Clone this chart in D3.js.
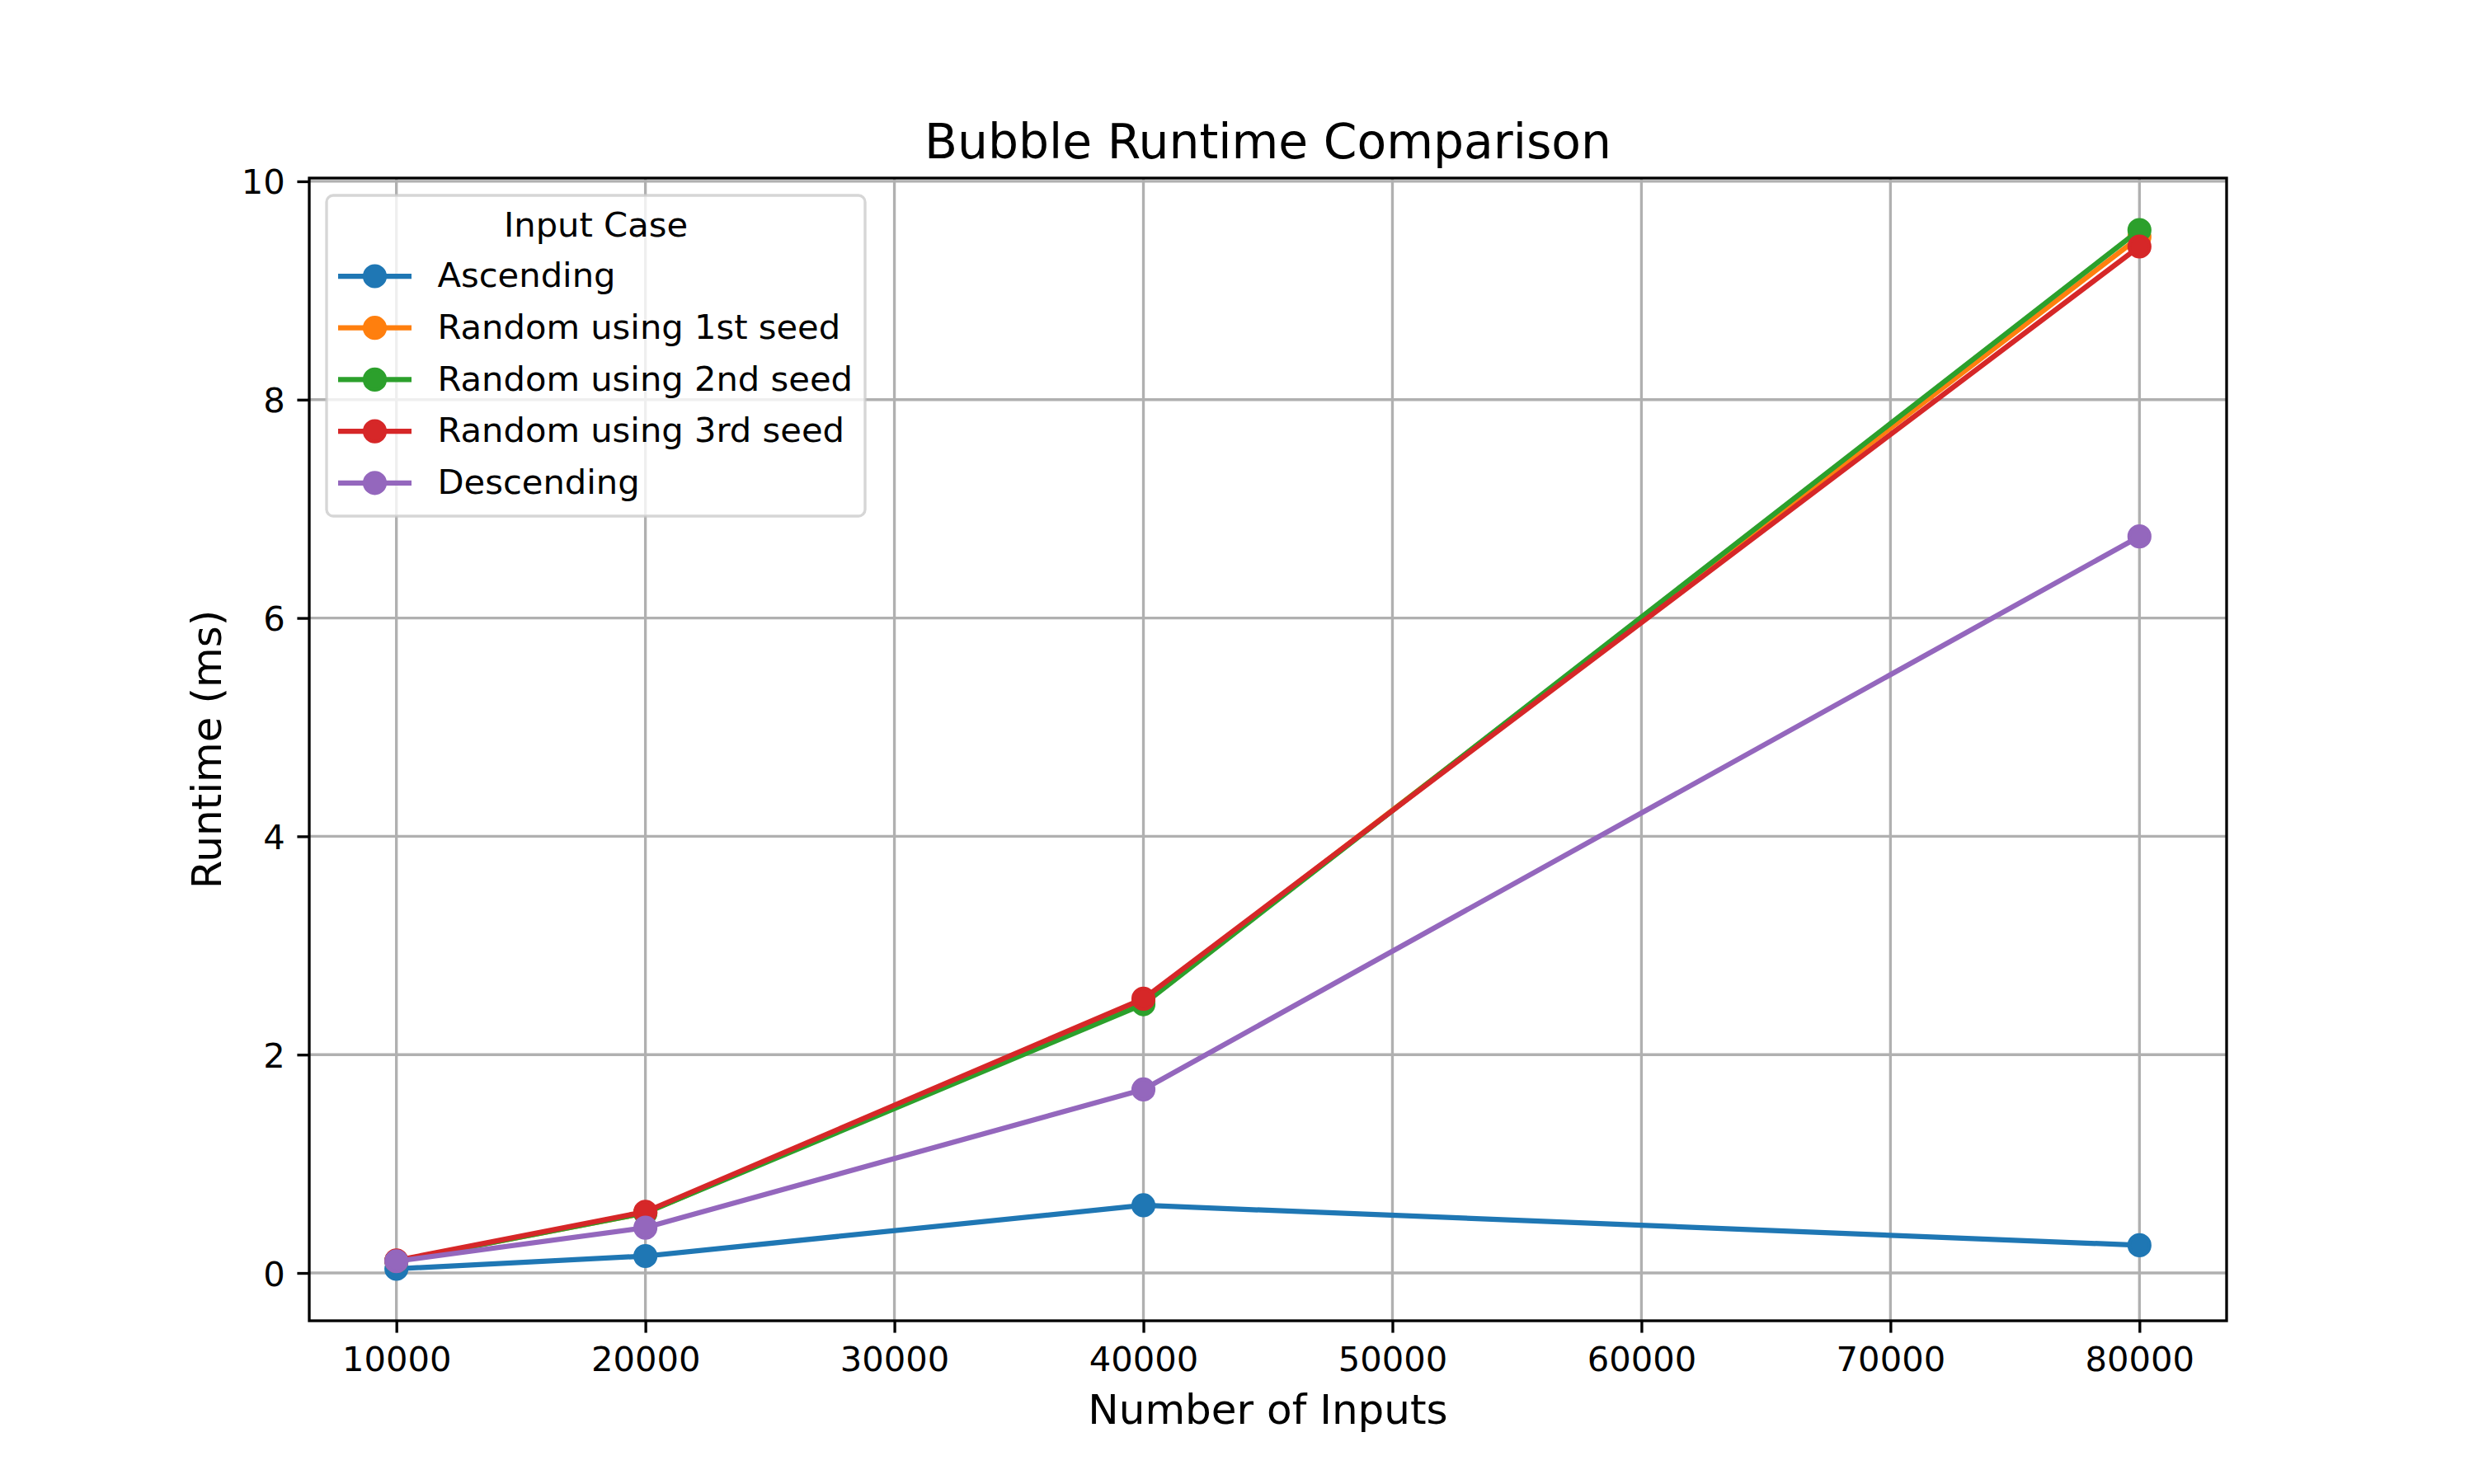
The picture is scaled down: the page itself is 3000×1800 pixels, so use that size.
<!DOCTYPE html>
<html>
<head>
<meta charset="utf-8">
<script src="https://cdn.jsdelivr.net/npm/d3@7"></script>
<style>
  body { margin: 0; background: #fff; }
  svg { display: block; font-family: "DejaVu Sans", sans-serif; }
</style>
</head>
<body>
<div id="chart"></div>
<script>
// input sizes on the x axis
const inputSizes = [10000, 20000, 40000, 80000];

// runtimes in ms
const ascending = [0.038, 0.155, 0.62, 0.254];
const random1 = [0.11, 0.55, 2.49, 9.49];
const random2 = [0.11, 0.55, 2.462, 9.554];
const random3 = [0.115, 0.561, 2.512, 9.403];
const descending = [0.108, 0.415, 1.681, 6.747];

const seriesNames = [
  "Ascending",
  "Random using 1st seed",
  "Random using 2nd seed",
  "Random using 3rd seed",
  "Descending",
];
const seriesColors = ["#1f77b4", "#ff7f0e", "#2ca02c", "#d62728", "#9467bd"];

const xTicks = [10000, 20000, 30000, 40000, 50000, 60000, 70000, 80000];
const yTicks = [0, 2, 4, 6, 8, 10];

const width = 3000;
const height = 1800;
const margin = { top: 216, right: 300, bottom: 198, left: 375 };
const pt = 300 / 72;

const series = [ascending, random1, random2, random3, descending].map((vals, i) => ({
  name: seriesNames[i],
  color: seriesColors[i],
  points: vals.map((v, j) => ({ x: inputSizes[j], y: v })),
}));

const svg = d3
  .select("#chart")
  .append("svg")
  .attr("width", width)
  .attr("height", height);

// matplotlib style 5% auto margins
const xExt = d3.extent(inputSizes);
const allY = series.flatMap((s) => s.points.map((p) => p.y));
const yExt = d3.extent(allY);
const xPad = (xExt[1] - xExt[0]) * 0.05;
const yPad = (yExt[1] - yExt[0]) * 0.05;

const xScale = d3
  .scaleLinear()
  .domain([xExt[0] - xPad, xExt[1] + xPad])
  .range([margin.left, width - margin.right]);

const yScale = d3
  .scaleLinear()
  .domain([yExt[0] - yPad, yExt[1] + yPad])
  .range([height - margin.bottom, margin.top]);

const plotLeft = margin.left;
const plotRight = width - margin.right;
const plotTop = margin.top;
const plotBottom = height - margin.bottom;

// grid
const grid = svg.append("g").attr("stroke", "#b0b0b0").attr("stroke-width", 0.8 * pt);
grid
  .selectAll(".vgrid")
  .data(xTicks)
  .enter()
  .append("line")
  .attr("x1", (d) => xScale(d))
  .attr("x2", (d) => xScale(d))
  .attr("y1", plotTop)
  .attr("y2", plotBottom);
grid
  .selectAll(".hgrid")
  .data(yTicks)
  .enter()
  .append("line")
  .attr("x1", plotLeft)
  .attr("x2", plotRight)
  .attr("y1", (d) => yScale(d))
  .attr("y2", (d) => yScale(d));

// lines + markers
const line = d3
  .line()
  .x((d) => xScale(d.x))
  .y((d) => yScale(d.y));

series.forEach((s) => {
  const g = svg.append("g");
  g.append("path")
    .datum(s.points)
    .attr("d", line)
    .attr("fill", "none")
    .attr("stroke", s.color)
    .attr("stroke-width", 1.5 * pt)
    .attr("stroke-linejoin", "round")
    .attr("stroke-linecap", "butt");
  g.selectAll("circle")
    .data(s.points)
    .enter()
    .append("circle")
    .attr("cx", (d) => xScale(d.x))
    .attr("cy", (d) => yScale(d.y))
    .attr("r", 3 * pt)
    .attr("fill", s.color)
    .attr("stroke", s.color)
    .attr("stroke-width", 1 * pt);
});

// axes
const tickFont = 10 * pt;
const xAxis = d3
  .axisBottom(xScale)
  .tickValues(xTicks)
  .tickFormat(d3.format("d"))
  .tickSize(3.5 * pt)
  .tickPadding(3.5 * pt)
  .tickSizeOuter(0);
const yAxis = d3
  .axisLeft(yScale)
  .tickValues(yTicks)
  .tickFormat(d3.format("d"))
  .tickSize(3.5 * pt)
  .tickPadding(3.5 * pt)
  .tickSizeOuter(0);

const gx = svg.append("g").attr("transform", `translate(0,${plotBottom})`).call(xAxis);
const gy = svg.append("g").attr("transform", `translate(${plotLeft},0)`).call(yAxis);
[gx, gy].forEach((g) => {
  g.select(".domain").remove();
  g.selectAll(".tick line").attr("stroke", "#000").attr("stroke-width", 0.8 * pt);
  g.selectAll(".tick text")
    .attr("fill", "#000")
    .style("font-family", "DejaVu Sans")
    .style("font-size", tickFont + "px");
});
gx.selectAll(".tick text").attr("dy", null).attr("y", 3.5 * pt * 2 + 31.5);
gy.selectAll(".tick text").attr("dy", "0.36em");

// spines
svg
  .append("rect")
  .attr("x", plotLeft)
  .attr("y", plotTop)
  .attr("width", plotRight - plotLeft)
  .attr("height", plotBottom - plotTop)
  .attr("fill", "none")
  .attr("stroke", "#000")
  .attr("stroke-width", 0.8 * pt);

// title and labels
svg
  .append("text")
  .attr("x", (plotLeft + plotRight) / 2)
  .attr("y", 191.5)
  .attr("text-anchor", "middle")
  .style("font-size", 14 * pt + "px")
  .text("Bubble Runtime Comparison");

svg
  .append("text")
  .attr("x", (plotLeft + plotRight) / 2)
  .attr("y", 1726.5)
  .attr("text-anchor", "middle")
  .style("font-size", 12 * pt + "px")
  .text("Number of Inputs");

svg
  .append("text")
  .attr("transform", `translate(268,${(plotTop + plotBottom) / 2}) rotate(-90)`)
  .attr("text-anchor", "middle")
  .style("font-size", 12 * pt + "px")
  .text("Runtime (ms)");

// legend
const legend = svg.append("g");
legend
  .append("rect")
  .attr("x", 396)
  .attr("y", 237)
  .attr("width", 653)
  .attr("height", 389)
  .attr("rx", 8)
  .attr("fill", "#fff")
  .attr("fill-opacity", 0.8)
  .attr("stroke", "#cccccc")
  .attr("stroke-opacity", 0.8)
  .attr("stroke-width", 0.8 * pt);

legend
  .append("text")
  .attr("x", 722.5)
  .attr("y", 287.3)
  .attr("text-anchor", "middle")
  .style("font-size", tickFont + "px")
  .text("Input Case");

const rowStep = 62.7;
const rows = legend
  .selectAll(".row")
  .data(series)
  .enter()
  .append("g")
  .attr("transform", (d, i) => `translate(0,${335 + i * rowStep})`);

rows
  .append("line")
  .attr("x1", 410)
  .attr("x2", 499)
  .attr("stroke", (d) => d.color)
  .attr("stroke-width", 1.5 * pt);
rows
  .append("circle")
  .attr("cx", 454.5)
  .attr("r", 3 * pt)
  .attr("fill", (d) => d.color)
  .attr("stroke", (d) => d.color)
  .attr("stroke-width", 1 * pt);
rows
  .append("text")
  .attr("x", 530.5)
  .attr("y", 13.3)
  .style("font-size", tickFont + "px")
  .text((d) => d.name);
</script>
</body>
</html>
